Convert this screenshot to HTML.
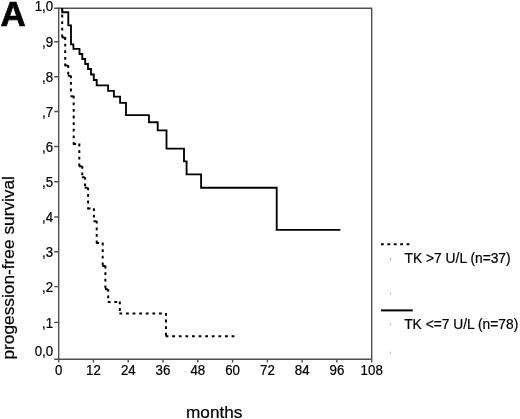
<!DOCTYPE html>
<html><head><meta charset="utf-8"><title>Kaplan-Meier progression-free survival</title>
<style>
html,body{margin:0;padding:0;background:#fff;width:520px;height:419px;overflow:hidden}
svg{display:block;will-change:transform}
text{font-family:"Liberation Sans",sans-serif;fill:#000;stroke:#000;stroke-width:0.22px}
</style></head>
<body>
<svg width="520" height="419" viewBox="0 0 520 419">
<rect width="520" height="419" fill="#fff"/>
<!-- Panel letter -->
<text transform="translate(0.4 25.8) scale(1.05 1.04)" font-size="33.3" font-weight="bold" style="stroke-width:0.7px">A</text>

<!-- Frame / axes -->
<g stroke="#505050" stroke-width="1.4" fill="none">
  <path d="M54.2 8.3H371.7V359.3H54.2" stroke-linejoin="miter"/>
  <path d="M58.7 7.6V362.6"/>
  <!-- y ticks -->
  <path d="M54.2 41.7H58M54.2 76.8H58M54.2 111.5H58M54.2 146.5H58M54.2 181.7H58M54.2 217H58M54.2 251.7H58M54.2 286.6H58M54.2 322.4H58"/>
  <!-- x ticks -->
  <path d="M93.4 360V362.6M128.2 360V362.6M163 360V362.6M197.8 360V362.6M232.6 360V362.6M267.4 360V362.6M302.1 360V362.6M336.9 360V362.6M371.7 360V362.6"/>
</g>

<!-- y tick labels -->
<g font-size="14.3" text-anchor="end">
  <text transform="translate(53.2 10.9) scale(0.93 1.07)">1,0</text>
  <text transform="translate(53.2 46.8) scale(0.93 1.07)">,9</text>
  <text transform="translate(53.2 81.9) scale(0.93 1.07)">,8</text>
  <text transform="translate(53.2 116.5) scale(0.93 1.07)">,7</text>
  <text transform="translate(53.2 151.5) scale(0.93 1.07)">,6</text>
  <text transform="translate(53.2 186.8) scale(0.93 1.07)">,5</text>
  <text transform="translate(53.2 222) scale(0.93 1.07)">,4</text>
  <text transform="translate(53.2 256.7) scale(0.93 1.07)">,3</text>
  <text transform="translate(53.2 291.7) scale(0.93 1.07)">,2</text>
  <text transform="translate(53.2 327.5) scale(0.93 1.07)">,1</text>
  <text transform="translate(53.2 356.4) scale(0.93 1.07)">0,0</text>
</g>
<!-- x tick labels -->
<g font-size="14.3" text-anchor="middle">
  <text transform="translate(58.7 375.4) scale(0.93 1.07)">0</text>
  <text transform="translate(93.5 375.4) scale(0.93 1.07)">12</text>
  <text transform="translate(128.3 375.4) scale(0.93 1.07)">24</text>
  <text transform="translate(163.0 375.4) scale(0.93 1.07)">36</text>
  <text transform="translate(197.8 375.4) scale(0.93 1.07)">48</text>
  <text transform="translate(232.6 375.4) scale(0.93 1.07)">60</text>
  <text transform="translate(267.4 375.4) scale(0.93 1.07)">72</text>
  <text transform="translate(302.2 375.4) scale(0.93 1.07)">84</text>
  <text transform="translate(336.9 375.4) scale(0.93 1.07)">96</text>
  <text transform="translate(371.7 375.4) scale(0.93 1.07)">108</text>
</g>

<!-- axis titles -->
<text x="186" y="417.5" font-size="17.2">months</text>
<text transform="translate(14.3 359.5) rotate(-90)" font-size="17.3">progession-free survival</text>

<!-- TK <= 7 (solid) -->
<path fill="none" stroke="#000" stroke-width="1.85" stroke-linejoin="miter"
 d="M62.2 8.4V12.2H68.3V25.4H71V44.3H73.4V48.8H79.5V54H82.3V59H85.2V64H88V69H91V74.5H93.8V80H96.7V85.3H108.1V90.8H113.9V96.6H120.1V102.8H126V115.1H148.9V122.2H157.7V130.3H166.5V148.6H184V161.3H186.6V174.4H201.1V187.7H276.7V229.9H340.4"/>

<!-- TK > 7 (dotted) -->
<path fill="none" stroke="#000" stroke-width="2" stroke-linecap="square" stroke-dasharray="0.8 5.8" stroke-dashoffset="-0.6"
 d="M62.2 8.4V37.5M62.2 37.5H65.2M65.2 37.5V65.5M65.2 65.5H68.2M68.2 65.5V75.8M68.2 75.8H70.9M70.9 75.8V96.2M70.9 96.2H73.7M73.7 96.2V144M73.7 144H79.3M79.3 144V166.3M79.3 166.3H82.3M82.3 166.3V177.3M82.3 177.3H85.1M85.1 177.3V187.8M85.1 187.8H88.1M88.1 187.8V208.6M88.1 208.6H93.9M93.9 208.6V221.2M93.9 221.2H96.7M96.7 221.2V243M96.7 243H102.7M102.7 243V266M102.7 266H105.4M105.4 266V289.3M105.4 289.3H108.2M108.2 289.3V301.9M108.2 301.9H119.8M119.8 301.9V313.4M119.8 313.4H166M166 313.4V336.3M166 336.3H235"/>

<!-- legend -->
<path d="M382 244.2H411" stroke="#000" stroke-width="2" stroke-linecap="square" stroke-dasharray="0.8 5.6"/>
<path d="M381 310.4H412.7" stroke="#000" stroke-width="2"/>
<g font-size="14.5">
  <text transform="translate(404.6 263.3) scale(0.952 1)">TK &gt;7 U/L (n=37)</text>
  <text transform="translate(404.2 329) scale(0.952 1)">TK &lt;=7 U/L (n=78)</text>
</g>
<g fill="#b0b0b0">
  <rect x="390" y="258" width="1" height="2"/>
  <rect x="390" y="292.6" width="1" height="2"/>
  <rect x="390" y="323.6" width="1" height="2"/>
  <rect x="390" y="351.7" width="1" height="2"/>
</g>
</svg>
</body></html>
